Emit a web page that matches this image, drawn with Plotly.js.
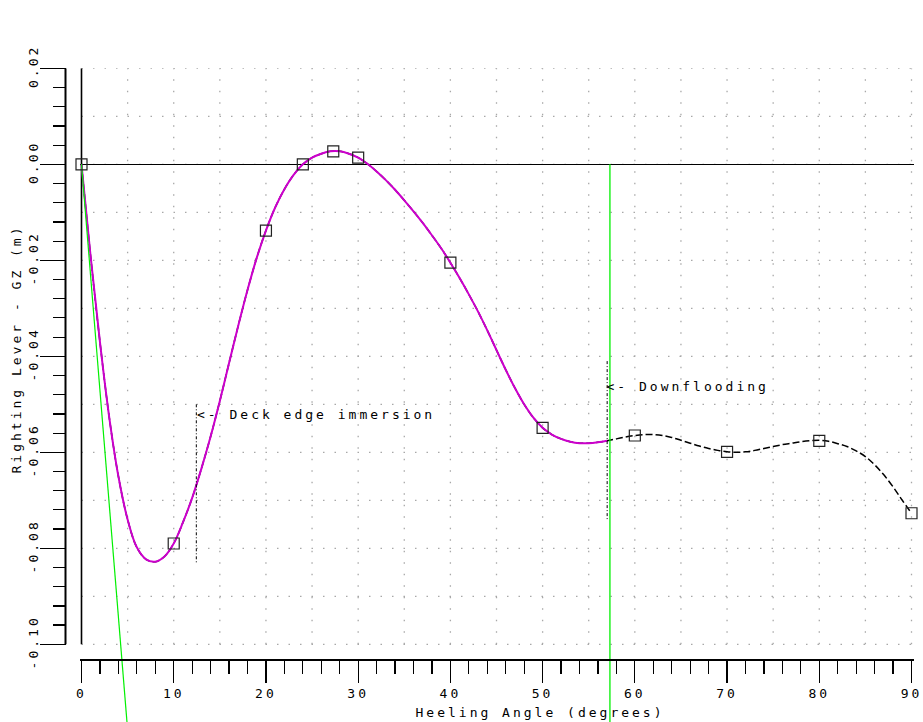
<!DOCTYPE html>
<html>
<head>
<meta charset="utf-8">
<script src="https://cdn.plot.ly/plotly-3.0.1.min.js"></script>
<style>
  html, body { margin: 0; padding: 0; background: #ffffff; }
  #chart { width: 923px; height: 722px; }
  #chart text { letter-spacing: 3px; }
</style>
</head>
<body>
<div id="chart"></div>
<script>
// GZ curve (righting lever, m) at every degree of heel, 0..90
const curveAngle = [
  0, 1, 2, 3, 4, 5, 6, 7, 8, 9,
  10, 11, 12, 13, 14, 15, 16, 17, 18, 19,
  20, 21, 22, 23, 24, 25, 26, 27, 28, 29,
  30, 31, 32, 33, 34, 35, 36, 37, 38, 39,
  40, 41, 42, 43, 44, 45, 46, 47, 48, 49,
  50, 51, 52, 53, 54, 55, 56, 57, 58, 59,
  60, 61, 62, 63, 64, 65, 66, 67, 68, 69,
  70, 71, 72, 73, 74, 75, 76, 77, 78, 79,
  80, 81, 82, 83, 84, 85, 86, 87, 88, 89,
  90];
const curveGZ = [
  0.0000, -0.0194, -0.0370, -0.0526, -0.0650, -0.0740, -0.0798, -0.0823, -0.0828, -0.0817,
  -0.0790, -0.0746, -0.0695, -0.0634, -0.0567, -0.0493, -0.0414, -0.0336, -0.0262, -0.0195,
  -0.0138, -0.0090, -0.0052, -0.0022, 0.0000, 0.0014, 0.0022, 0.0027, 0.0027, 0.0022,
  0.0014, 0.0001, -0.0015, -0.0033, -0.0053, -0.0075, -0.0098, -0.0122, -0.0148, -0.0175,
  -0.0205, -0.0237, -0.0271, -0.0307, -0.0346, -0.0387, -0.0428, -0.0466, -0.0500, -0.0528,
  -0.0549, -0.0563, -0.0572, -0.0578, -0.0581, -0.0581, -0.0579, -0.0576, -0.0572, -0.0568,
  -0.0565, -0.0563, -0.0563, -0.0565, -0.0569, -0.0575, -0.0581, -0.0587, -0.0592, -0.0596,
  -0.0599, -0.0600, -0.0599, -0.0596, -0.0592, -0.0588, -0.0584, -0.0581, -0.0578, -0.0576,
  -0.0575, -0.0577, -0.0582, -0.0588, -0.0597, -0.0609, -0.0626, -0.0647, -0.0672, -0.0700,
  -0.0727];

// Calculated stations
const pointAngle = [0, 10, 20, 24, 27.3, 30, 40, 50, 60, 70, 80, 90];
const pointGZ = [0, -0.0790, -0.0138, 0, 0.0027, 0.0014, -0.0205, -0.0549, -0.0565, -0.0599, -0.0576, -0.0727];

// Initial GM line, drawn out to one radian
const gmValue = -1.35;
const radianAngle = 57.3;

// Event markers
const deckEdgeAngle = 12.45;
const deckEdgeSpan = [-0.050, -0.083];
const downfloodAngle = 57.0;
const downfloodSpan = [-0.041, -0.074];

// Axis ticks and grid
const yTickVals = [0.02, 0, -0.02, -0.04, -0.06, -0.08, -0.10];
const yTickText = ['0.02', '0.00', '-0.02', '-0.04', '-0.06', '-0.08', '-0.10'];
const hGridVals = [0.02, 0.01, 0, -0.01, -0.02, -0.03, -0.04, -0.05, -0.06, -0.07, -0.08, -0.09, -0.10];
const vGridVals = [5, 10, 15, 20, 25, 30, 35, 40, 45, 50, 55, 60, 65, 70, 75, 80, 85, 90];

const FONT = 'DejaVu Sans Mono';
const LETTER_SPACING = 3;
const W = 923, H = 722;
const PX_PER_DEG = 830 / 90;   // 0 deg at x = 81.5 px, 90 deg at x = 911.5 px
const X_PAD = 2;                // px of plot area kept either side of 0..90

// minor y ticks every 0.004 between the end labels
const yMinor = [];
for (let i = 0; i <= 30; i++) yMinor.push(Math.round((-0.10 + i * 0.004) * 1e4) / 1e4);

const preFlood = curveAngle.map((a, i) => [a, curveGZ[i]]).filter(p => p[0] <= downfloodAngle);

const traces = [
  { x: curveAngle, y: curveGZ, mode: 'lines',
    line: { color: '#000000', width: 1.5, dash: '7px,3px', shape: 'spline', smoothing: 1 } },
  { x: preFlood.map(p => p[0]), y: preFlood.map(p => p[1]), mode: 'lines',
    line: { color: '#cc00cc', width: 2, shape: 'spline', smoothing: 1 } },
  { x: [0, radianAngle], y: [0, gmValue], mode: 'lines', line: { color: '#00f000', width: 1.2 } },
  { x: [radianAngle, radianAngle], y: [0, gmValue], mode: 'lines', line: { color: '#00f000', width: 1.3 } },
  { x: [deckEdgeAngle, deckEdgeAngle], y: deckEdgeSpan, mode: 'lines',
    line: { color: '#000000', width: 1, dash: '3px,2px,1px,2px' } },
  { x: [downfloodAngle, downfloodAngle], y: downfloodSpan, mode: 'lines',
    line: { color: '#000000', width: 1, dash: '3px,2px,1px,2px' } },
  { x: pointAngle, y: pointGZ, mode: 'markers', cliponaxis: false,
    marker: { symbol: 'square-open', size: 11, color: '#222222', line: { width: 1.2 } } }
];

const gridLine = { color: '#a8a8a8', width: 1.3, dash: '1.5px,10px' };
const shapes = [];
hGridVals.forEach(v => shapes.push({ type: 'line', layer: 'below', xref: 'x', yref: 'y',
  x0: 0, x1: 90, y0: v, y1: v, line: gridLine }));
vGridVals.forEach(v => shapes.push({ type: 'line', layer: 'below', xref: 'x', yref: 'y',
  x0: v, x1: v, y0: -0.10, y1: 0.02, line: gridLine }));
// vertical axis line and the upright (heel = 0) line
shapes.push({ type: 'line', layer: 'above', xref: 'paper', yref: 'y',
  x0: 65.5 / W, x1: 65.5 / W, y0: -0.10, y1: 0.02, line: { color: '#000000', width: 2 } });
shapes.push({ type: 'line', layer: 'between', xref: 'x', yref: 'y',
  x0: 0, x1: 0, y0: -0.10, y1: 0.02, line: { color: '#000000', width: 1.6 } });

const textFont = { family: FONT, size: 13, color: '#000000' };

// left-anchored labels: offset for the extra letter spacing
function leftLabel(x, y, text, nudge) {
  return { xref: 'x', yref: 'y', x: x, y: y, xanchor: 'left', yanchor: 'middle',
    xshift: nudge + text.length * LETTER_SPACING / 2, showarrow: false, text: text, font: textFont };
}

const layout = {
  width: W, height: H,
  margin: { l: 0, r: 0, t: 0, b: 0, pad: 0 },
  paper_bgcolor: '#ffffff', plot_bgcolor: 'rgba(0,0,0,0)',
  showlegend: false,
  font: textFont,
  xaxis: {
    domain: [(81.5 - X_PAD) / W, (911.5 + X_PAD) / W],
    range: [-X_PAD / PX_PER_DEG, 90 + X_PAD / PX_PER_DEG],
    anchor: 'free', position: (H - 659.5) / H, automargin: false,
    showgrid: false, zeroline: false,
    showline: true, linecolor: '#000000', linewidth: 2,
    tickmode: 'linear', tick0: 0, dtick: 10,
    ticks: 'outside', ticklen: 22, tickwidth: 1.2, tickcolor: '#000000',
    minor: { tickmode: 'linear', tick0: 0, dtick: 2, ticks: 'outside', ticklen: 13, tickwidth: 1.2, tickcolor: '#000000' },
    tickfont: textFont
  },
  yaxis: {
    domain: [0, (H - 68.3) / H], range: [0.02 - (H - 68.3) / 4800, 0.02],
    anchor: 'free', position: 65.5 / W, automargin: false,
    showgrid: false, showline: false,
    zeroline: true, zerolinecolor: '#000000', zerolinewidth: 1.6,
    tickmode: 'array', tickvals: yTickVals, ticktext: yTickText, tickangle: -90,
    ticks: 'outside', ticklen: 26, tickwidth: 1.5, tickcolor: '#000000',
    ticklabelstandoff: -4,
    minor: { tickmode: 'array', tickvals: yMinor, ticks: 'outside', ticklen: 13, tickwidth: 1.2, tickcolor: '#000000' },
    tickfont: textFont
  },
  shapes: shapes,
  annotations: [
    leftLabel(deckEdgeAngle, -0.0522, '<- Deck edge immersion', -1),
    leftLabel(downfloodAngle, -0.0463, '<- Downflooding', -3),
    { xref: 'paper', yref: 'paper', x: 540 / W, y: (H - 712) / H, xanchor: 'center', yanchor: 'middle',
      showarrow: false, text: 'Heeling Angle (degrees)', font: textFont },
    { xref: 'paper', yref: 'paper', x: 16 / W, y: (H - 349) / H, xanchor: 'center', yanchor: 'middle',
      showarrow: false, textangle: -90, text: 'Righting Lever - GZ (m)', font: textFont }
  ]
};

Plotly.newPlot('chart', traces, layout, { staticPlot: true, displayModeBar: false });
</script>
</body>
</html>
